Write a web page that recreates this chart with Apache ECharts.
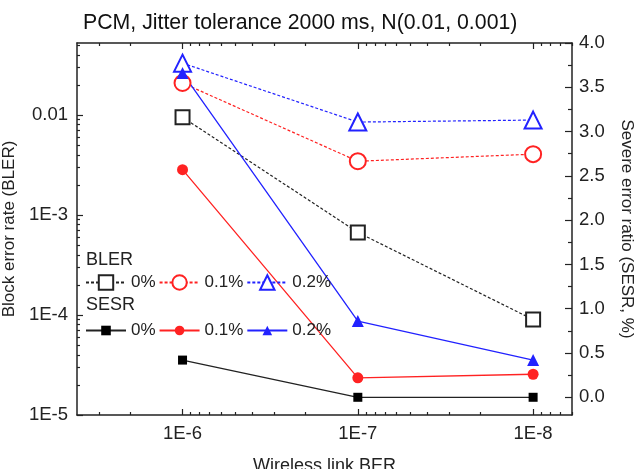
<!DOCTYPE html>
<html>
<head>
<meta charset="utf-8">
<script src="https://cdn.jsdelivr.net/npm/echarts@6/dist/echarts.min.js"></script>
<style>
  html, body { margin: 0; padding: 0; background: #fff; }
  #box { width: 644px; height: 469px; }
</style>
</head>
<body>
<div id="box"></div>
<script>
// x: wireless link BER (log, reversed)
const ber = [1e-6, 1e-7, 1e-8]
// block error rate, left axis (log)
const bler0 = [0.0095, 6.7e-4, 9.0e-5]
const bler01 = [0.0209, 0.00345, 0.00406]
const bler02 = [0.033, 0.0085, 0.0089]
// severe error ratio %, right axis
const sesr0 = [0.42, 0.0, 0.0]
const sesr01 = [2.57, 0.22, 0.26]
const sesr02 = [3.66, 0.86, 0.42]

const xTicks = [1e-6, 1e-7, 1e-8]
const xTickLabels = ['1E-6', '1E-7', '1E-8']
const leftTicks = [1e-5, 1e-4, 1e-3, 0.01]
const leftTickLabels = ['1E-5', '1E-4', '1E-3', '0.01']
const rightTicks = [0, 0.5, 1, 1.5, 2, 2.5, 3, 3.5, 4]
const rightTickLabels = ['0.0', '0.5', '1.0', '1.5', '2.0', '2.5', '3.0', '3.5', '4.0']
const rightMinor = [0.25, 0.75, 1.25, 1.75, 2.25, 2.75, 3.25, 3.75]

const FONT = '"Liberation Sans", Arial, sans-serif'
const INK = '#222'
const RED = '#ff2222'
const BLUE = '#2222ff'

const xMin = 6e-9, xMax = 4e-6
const yMin = 1e-5, yMax = 0.0525

// log minor ticks 2..9 x 10^k inside (lo, hi)
function logMinor(lo, hi) {
  const out = []
  for (let e = Math.floor(Math.log10(lo)); e <= Math.ceil(Math.log10(hi)); e++) {
    for (let m = 2; m <= 9; m++) {
      const v = m * Math.pow(10, e)
      if (v > lo && v < hi) out.push(v)
    }
  }
  return out
}
function logLabel(ticks, labels) {
  return function (v) {
    for (let i = 0; i < ticks.length; i++) {
      if (Math.abs(Math.log10(v) - Math.log10(ticks[i])) < 1e-6) return labels[i]
    }
    return ''
  }
}
const pairs = ys => ber.map((x, i) => [x, ys[i]])

const axisLine = { show: true, onZero: false, lineStyle: { color: INK, width: 1.5 } }
const noLine = { show: false, onZero: false }

function xAx(pos, major) {
  return {
    type: 'log', inverse: true, min: xMin, max: xMax, position: pos,
    axisLine: major ? axisLine : noLine,
    axisTick: { show: true, inside: true, length: major ? 6 : 3,
      customValues: major ? xTicks : logMinor(xMin, xMax),
      lineStyle: { color: INK, width: 1.2 } },
    axisLabel: { show: major && pos === 'bottom', customValues: xTicks,
      formatter: logLabel(xTicks, xTickLabels),
      fontSize: 18.5, fontFamily: FONT, color: INK, margin: 9 },
    splitLine: { show: false }
  }
}

const myChart = echarts.init(document.getElementById('box'))
const option = {
  animation: false,
  backgroundColor: '#fff',
  textStyle: { fontFamily: FONT },
  title: {
    text: 'PCM, Jitter tolerance 2000 ms, N(0.01, 0.001)',
    left: 78, top: 8,
    textStyle: { fontSize: 21.3, fontWeight: 'normal', color: '#111', fontFamily: FONT }
  },
  grid: { left: 77, right: 72, top: 43, bottom: 54, containLabel: false, outerBoundsMode: 'none' },
  legend: [
    {
      data: ['BLER 0%', 'BLER 0.1%', 'BLER 0.2%'],
      left: 85, top: 274, padding: 0,
      itemWidth: 40, itemHeight: 18, itemGap: 3,
      formatter: n => n.replace(/^\S+ /, ''),
      textStyle: { fontSize: 17, color: INK, fontFamily: FONT }
    },
    {
      data: ['SESR 0%', 'SESR 0.1%', 'SESR 0.2%'],
      left: 85, top: 322, padding: 0,
      itemWidth: 40, itemHeight: 12, itemGap: 3,
      formatter: n => n.replace(/^\S+ /, ''),
      textStyle: { fontSize: 17, color: INK, fontFamily: FONT }
    }
  ],
  graphic: [
    { type: 'text', x: 86, y: 260, style: { text: 'BLER', fontSize: 18, fontFamily: FONT, fill: INK, verticalAlign: 'middle' } },
    { type: 'text', x: 86, y: 305, style: { text: 'SESR', fontSize: 18, fontFamily: FONT, fill: INK, verticalAlign: 'middle' } }
  ],
  xAxis: [
    Object.assign(xAx('bottom', true), {
      name: 'Wireless link BER', nameLocation: 'middle', nameGap: 42,
      nameTextStyle: { fontSize: 18, color: INK, fontFamily: FONT }
    }),
    xAx('bottom', false),
    xAx('top', true),
    xAx('top', false)
  ],
  yAxis: [
    {
      type: 'log', min: yMin, max: yMax, position: 'left',
      axisLine: axisLine,
      axisTick: { inside: true, length: 6, customValues: leftTicks, lineStyle: { color: INK, width: 1.2 } },
      axisLabel: { customValues: leftTicks, formatter: logLabel(leftTicks, leftTickLabels),
        fontSize: 18.5, fontFamily: FONT, color: INK, margin: 9 },
      splitLine: { show: false },
      name: 'Block error rate (BLER)', nameLocation: 'middle', nameRotate: 90, nameGap: 57,
      nameTextStyle: { fontSize: 17, color: INK, fontFamily: FONT }
    },
    {
      type: 'value', min: -0.2, max: 4, position: 'right',
      axisLine: axisLine,
      axisTick: { inside: true, length: 7, customValues: rightTicks, lineStyle: { color: INK, width: 1.2 } },
      axisLabel: { customValues: rightTicks,
        formatter: v => rightTickLabels[rightTicks.indexOf(Math.round(v * 100) / 100)] || '',
        fontSize: 18.5, fontFamily: FONT, color: INK, margin: 7 },
      splitLine: { show: false },
      name: 'Severe error ratio (SESR, %)', nameLocation: 'middle', nameRotate: -90, nameGap: 46,
      nameTextStyle: { fontSize: 17, color: INK, fontFamily: FONT }
    },
    {
      type: 'log', min: yMin, max: yMax, position: 'left',
      axisLine: noLine,
      axisTick: { inside: true, length: 3, customValues: logMinor(yMin, yMax), lineStyle: { color: INK, width: 1.2 } },
      axisLabel: { show: false }, splitLine: { show: false }
    },
    {
      type: 'value', min: -0.2, max: 4, position: 'right',
      axisLine: noLine,
      axisTick: { inside: true, length: 4, customValues: rightMinor, lineStyle: { color: INK, width: 1.2 } },
      axisLabel: { show: false }, splitLine: { show: false }
    }
  ],
  series: [
    { name: 'BLER 0%', type: 'line', yAxisIndex: 0, data: pairs(bler0),
      symbol: 'emptyRect', symbolSize: 14, color: INK,
      itemStyle: { color: INK, borderWidth: 1.5 },
      lineStyle: { color: INK, width: 1.2, type: [3, 2] } },
    { name: 'BLER 0.1%', type: 'line', yAxisIndex: 0, data: pairs(bler01),
      symbol: 'emptyCircle', symbolSize: 16, color: RED,
      itemStyle: { color: RED, borderWidth: 1.5 },
      lineStyle: { color: RED, width: 1.2, type: [3, 2] } },
    { name: 'BLER 0.2%', type: 'line', yAxisIndex: 0, data: pairs(bler02),
      symbol: 'emptyTriangle', symbolSize: 17, color: BLUE,
      itemStyle: { color: BLUE, borderWidth: 1.5 },
      lineStyle: { color: BLUE, width: 1.2, type: [3, 2] } },
    { name: 'SESR 0%', type: 'line', yAxisIndex: 1, data: pairs(sesr0),
      symbol: 'rect', symbolSize: 9, color: '#000',
      itemStyle: { color: '#000' },
      lineStyle: { color: INK, width: 1.3 } },
    { name: 'SESR 0.1%', type: 'line', yAxisIndex: 1, data: pairs(sesr01),
      symbol: 'circle', symbolSize: 11, color: RED,
      itemStyle: { color: RED },
      lineStyle: { color: RED, width: 1.3 } },
    { name: 'SESR 0.2%', type: 'line', yAxisIndex: 1, data: pairs(sesr02),
      symbol: 'triangle', symbolSize: 12, color: BLUE,
      itemStyle: { color: BLUE },
      lineStyle: { color: BLUE, width: 1.3 } }
  ]
}
myChart.setOption(option)
</script>
</body>
</html>
